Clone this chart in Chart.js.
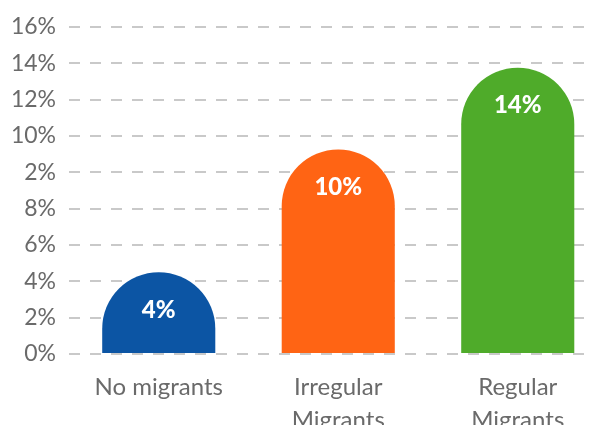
<!DOCTYPE html>
<html>
<head>
<meta charset="utf-8">
<script src="https://cdn.jsdelivr.net/npm/chart.js@4"></script>
<style>
  html, body { margin: 0; padding: 0; background: #fff; overflow: hidden; }
  #wrap { width: 610px; height: 425px; }
</style>
</head>
<body>
<div id="wrap"><canvas id="myChart" width="610" height="425"></canvas></div>
<script>
  'use strict';

  // カテゴリと値
  const categories = ['No migrants', ['Irregular', 'Migrants'], ['Regular', 'Migrants']];
  const shares = [4, 10, 14];
  const valueLabels = ['4%', '10%', '14%'];
  const barColors = ['#0c55a4', '#ff6414', '#4fab2a'];

  // Y軸の目盛ラベル（元の表記のまま）
  const yTickLabels = ['0%', '2%', '4%', '6%', '8%', '2%', '10%', '12%', '14%', '16%'];
  const yMax = 16;

  Chart.defaults.font.family = 'Lato, "Open Sans", sans-serif';

  // 上端が半円の棒を描く
  const domeBars = {
    id: 'domeBars',
    beforeDatasetDraw(chart, args) {
      const ctx = chart.ctx;
      args.meta.data.forEach((bar, i) => {
        const w = bar.width;
        const left = bar.x - w / 2;
        const right = bar.x + w / 2;
        const r = Math.min(w / 2, bar.base - bar.y);
        ctx.save();
        ctx.fillStyle = barColors[i];
        ctx.beginPath();
        ctx.moveTo(left, bar.base);
        ctx.lineTo(left, bar.y + r);
        ctx.ellipse(bar.x, bar.y + r, w / 2, r, 0, Math.PI, 0);
        ctx.lineTo(right, bar.base);
        ctx.closePath();
        ctx.fill();
        ctx.restore();
      });
      return false;
    },
    afterDatasetsDraw(chart) {
      const ctx = chart.ctx;
      const meta = chart.getDatasetMeta(0);
      ctx.save();
      ctx.fillStyle = '#ffffff';
      ctx.font = '900 24px Lato, sans-serif';
      ctx.textAlign = 'center';
      ctx.textBaseline = 'middle';
      meta.data.forEach((bar, i) => {
        ctx.fillText(valueLabels[i], bar.x, bar.y + 38);
      });
      ctx.restore();
    }
  };

  const ctx = document.getElementById('myChart').getContext('2d');

  const data = {
    labels: categories,
    datasets: [{
      data: shares,
      backgroundColor: barColors,
      barPercentage: 0.63,
      categoryPercentage: 1.0,
    }]
  };

  const options = {
    responsive: false,
    animation: false,
    layout: {
      padding: { top: 26, right: 2.5, left: 0, bottom: 0 }
    },
    scales: {
      y: {
        min: 0,
        max: yMax,
        afterBuildTicks(scale) {
          scale.ticks = yTickLabels.map((_, i) => ({ value: i * yMax / 9 }));
        },
        afterFit(scale) {
          scale.width = 69;
        },
        ticks: {
          padding: 13,
          color: '#6a6a6a',
          font: { size: 23 },
          callback: (v, i) => yTickLabels[i],
        },
        grid: {
          color: '#c9c9c9',
          lineWidth: 2,
          drawTicks: false,
        },
        border: {
          display: false,
          dash: [11, 10],
        },
      },
      x: {
        afterFit(scale) {
          scale.height = 71;
        },
        ticks: {
          padding: 9,
          color: '#6a6a6a',
          font: { size: 24, lineHeight: 1.38 },
          maxRotation: 0,
        },
        grid: { display: false },
        border: { display: false },
      }
    },
    plugins: {
      legend: { display: false },
      tooltip: { enabled: false },
    },
  };

  new Chart(ctx, {
    type: 'bar',
    data: data,
    options: options,
    plugins: [domeBars],
  });
</script>
</body>
</html>
